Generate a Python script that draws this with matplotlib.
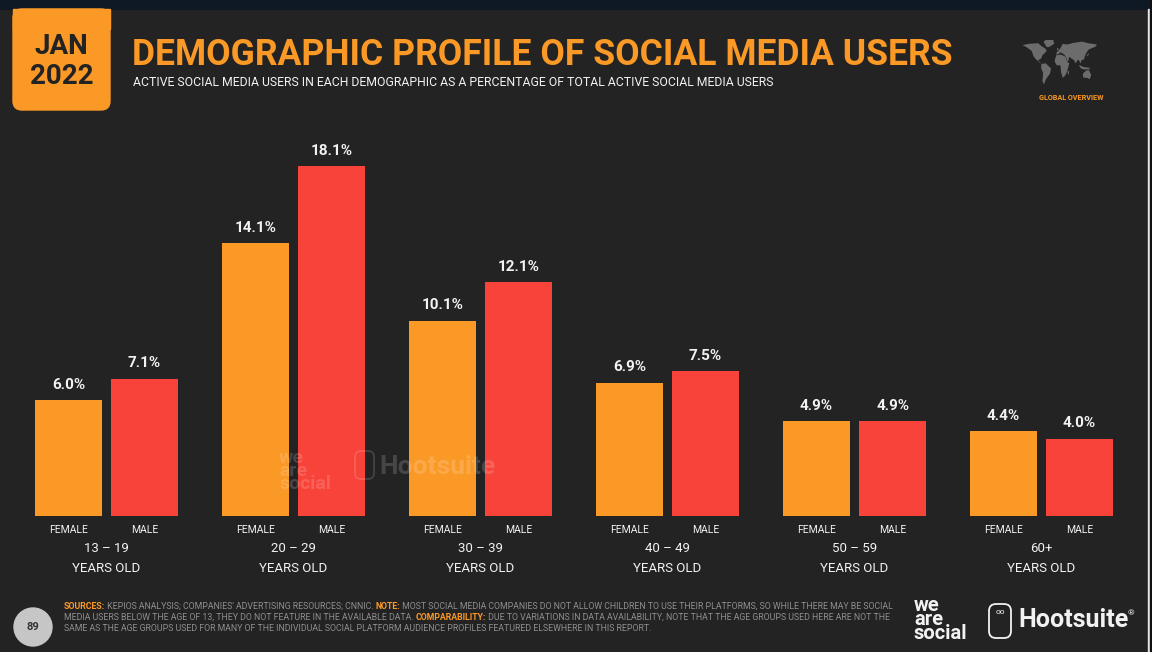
import matplotlib
matplotlib.use("Agg")
from matplotlib import pyplot as plt
from matplotlib.patches import Rectangle, FancyBboxPatch, Circle, Polygon
import numpy as np

# data
age_groups = ["13 – 19", "20 – 29", "30 – 39", "40 – 49", "50 – 59", "60+"]
female = [6.0, 14.1, 10.1, 6.9, 4.9, 4.4]
male = [7.1, 18.1, 12.1, 7.5, 4.9, 4.0]
sex_labels = ["FEMALE", "MALE"]

BG = "#232323"
NAVY = "#0f1926"
ORANGE = "#fb9927"
RED = "#f7433a"
WHITE = "#f2f2f2"
GREY = "#8e8e8e"
FONT = ["Roboto", "DejaVu Sans"]

plt.rcParams["font.family"] = FONT

W, H = 1152, 652
fig = plt.figure(figsize=(W / 100, H / 100), dpi=100)
fig.patch.set_facecolor(BG)


def pixel_axes():
    # full-figure overlay in pixel coordinates
    a = fig.add_axes([0, 0, 1, 1])
    a.set_xlim(0, W)
    a.set_ylim(H, 0)
    a.axis("off")
    a.set_facecolor("none")
    return a


deco = pixel_axes()
deco.add_patch(Rectangle((0, 0), W, H, color=BG, zorder=0))
deco.add_patch(Rectangle((0, 0), W, 9, color=NAVY, zorder=1))
deco.add_patch(Rectangle((1148, 9), 2, H, color="#e6e6e6", zorder=1))
deco.add_patch(Rectangle((1150, 0), 2, H, color="#101010", zorder=1))

# date badge
deco.add_patch(FancyBboxPatch((13, 9), 97, 101, boxstyle="round,pad=0,rounding_size=9",
                              color=ORANGE, zorder=2))
deco.add_patch(Rectangle((13, 9), 97, 20, color=ORANGE, zorder=2))
deco.text(61.5, 47, "JAN", color=BG, fontsize=20, fontweight="bold", ha="center", va="center", zorder=3)
deco.text(61.5, 76, "2022", color=BG, fontsize=20, fontweight="bold", ha="center", va="center", zorder=3)

# title
deco.text(132, 65, "DEMOGRAPHIC PROFILE OF SOCIAL MEDIA USERS", color=ORANGE, fontsize=25.6,
          fontweight="bold", ha="left", va="baseline")
deco.text(133, 86, "ACTIVE SOCIAL MEDIA USERS IN EACH DEMOGRAPHIC AS A PERCENTAGE OF TOTAL ACTIVE SOCIAL MEDIA USERS",
          color=WHITE, fontsize=8.85, ha="left", va="baseline")

# crude world map
continents = [
    [(-168, 66), (-140, 70), (-95, 72), (-80, 63), (-62, 56), (-55, 48), (-75, 35), (-81, 25), (-97, 18),
     (-88, 15), (-80, 8), (-105, 22), (-117, 32), (-125, 48), (-150, 60)],
    [(-55, 60), (-45, 60), (-20, 70), (-25, 82), (-60, 82), (-70, 76)],
    [(-80, 8), (-60, 10), (-35, -6), (-40, -22), (-58, -38), (-68, -55), (-75, -45), (-72, -20), (-81, -5)],
    [(-10, 36), (-9, 43), (-2, 48), (5, 53), (10, 58), (20, 70), (40, 68), (70, 73), (110, 77), (140, 72),
     (180, 68), (170, 60), (160, 58), (140, 52), (130, 42), (122, 30), (120, 22), (108, 20), (104, 10),
     (100, 14), (92, 22), (80, 10), (72, 20), (60, 25), (50, 30), (44, 12), (35, 30), (28, 36), (20, 40),
     (10, 44), (2, 40)],
    [(-17, 21), (-10, 35), (10, 37), (32, 31), (43, 12), (51, 11), (40, -15), (33, -26), (20, -35),
     (12, -18), (9, 4), (-8, 4), (-17, 14)],
    [(114, -22), (130, -12), (142, -11), (153, -26), (146, -39), (135, -35), (115, -34)],
    [(-8, 50), (0, 51), (-2, 58), (-6, 57)],
    [(44, -13), (50, -15), (47, -25), (43, -22)],
    [(95, 5), (120, -2), (140, -3), (150, -8), (120, -9), (105, -6)],
    [(130, 31), (140, 35), (142, 43), (136, 37)],
]
for poly in continents:
    pts = [(1020 + (lon + 180) / 360 * 77, 39 + (85 - lat) / 145 * 47) for lon, lat in poly]
    deco.add_patch(Polygon(pts, closed=True, color="#6c6c6c", lw=0, zorder=2))
deco.text(1071, 98, "GLOBAL OVERVIEW", color=ORANGE, fontsize=5.2, fontweight="bold",
          ha="center", va="center")

# chart axes mapped onto the slide: baseline at y=516 px, group pitch 187 px
ax = fig.add_axes([0, (H - 516) / H, 1, 380 / H])
ax.set_facecolor("none")
x0 = 106.5 / 187
ax.set_xlim(-x0, (W - 106.5) / 187)
ax.set_ylim(0, 380 * 18.1 / 350)
for s in ax.spines.values():
    s.set_visible(False)
ax.set_yticks([])

idx = np.arange(len(age_groups))
off = 0.2035
bw = 0.358
bf = ax.bar(idx - off, female, bw, color=ORANGE, lw=0)
bm = ax.bar(idx + off, male, bw, color=RED, lw=0)
for bars, vals in [(bf, female), (bm, male)]:
    for b, v in zip(bars, vals):
        ax.annotate(f"{v:.1f}%", (b.get_x() + b.get_width() / 2, v), xytext=(0, 6),
                    textcoords="offset points", ha="center", va="bottom", color=WHITE,
                    fontsize=11, fontweight="bold")

ticks = np.concatenate([idx - off, idx + off])
ax.set_xticks(ticks)
ax.set_xticklabels([sex_labels[0]] * len(idx) + [sex_labels[1]] * len(idx))
ax.tick_params(axis="x", length=0, pad=6.5, labelsize=7.5, labelcolor=WHITE)

trans = ax.get_xaxis_transform()
for i, grp in enumerate(age_groups):
    ax.text(i, -33 / 380, grp, transform=trans, ha="center", va="center", color=WHITE, fontsize=9.5)
    ax.text(i, -52 / 380, "YEARS OLD", transform=trans, ha="center", va="center", color=WHITE, fontsize=9.5)

# overlay on top of the bars: faint watermark and footer
top = pixel_axes()
top.text(279, 489, "we\nare\nsocial", color="#ffffff", alpha=0.16, fontsize=14, fontweight="bold",
         ha="left", va="baseline", linespacing=0.66)
top.add_patch(FancyBboxPatch((355, 451), 19, 28, boxstyle="round,pad=0,rounding_size=6",
                             fill=False, ec="#ffffff", alpha=0.16, lw=1.2))
top.text(379, 474, "Hootsuite", color="#ffffff", alpha=0.16, fontsize=19, fontweight="bold",
         ha="left", va="baseline")

top.add_patch(Circle((33, 627), 19, color="#c6c6c6", zorder=2))
top.text(33, 627, "89", color="#333333", fontsize=8, fontweight="bold", ha="center", va="center", zorder=3)

foot_lines = [
    [("SOURCES:", True), (" KEPIOS ANALYSIS; COMPANIES' ADVERTISING RESOURCES; CNNIC. ", False), ("NOTE:", True),
     (" MOST SOCIAL MEDIA COMPANIES DO NOT ALLOW CHILDREN TO USE THEIR PLATFORMS, SO WHILE THERE MAY BE SOCIAL", False)],
    [("MEDIA USERS BELOW THE AGE OF 13, THEY DO NOT FEATURE IN THE AVAILABLE DATA. ", False), ("COMPARABILITY:", True),
     (" DUE TO VARIATIONS IN DATA AVAILABILITY, NOTE THAT THE AGE GROUPS USED HERE ARE NOT THE", False)],
    [("SAME AS THE AGE GROUPS USED FOR MANY OF THE INDIVIDUAL SOCIAL PLATFORM AUDIENCE PROFILES FEATURED ELSEWHERE IN THIS REPORT.", False)],
]
for k, line in enumerate(foot_lines):
    prev = None
    for txt, hl in line:
        kw = dict(color=ORANGE if hl else GREY, fontsize=6.3, fontweight="bold" if hl else "normal",
                  va="bottom", ha="left")
        if prev is None:
            prev = top.text(64, 611 + k * 11, txt, **kw)
        else:
            prev = top.annotate(txt, xy=(1, 0), xycoords=prev, xytext=(0, 0),
                                textcoords="offset points", **kw)

# logos
top.text(914, 639, "we\nare\nsocial", color=WHITE, fontsize=14.5, fontweight="bold",
         ha="left", va="baseline", linespacing=0.68)
top.add_patch(FancyBboxPatch((989, 604), 22, 34, boxstyle="round,pad=0,rounding_size=7",
                             fill=False, ec=WHITE, lw=1.3))
top.text(1000, 612, "oo", color=WHITE, fontsize=6, ha="center", va="center")
top.text(1018, 627, "Hootsuite", color=WHITE, fontsize=18, fontweight="bold", ha="left", va="baseline")
top.text(1128, 613, "®", color=WHITE, fontsize=6, ha="left", va="center")

fig.savefig("out.png", dpi=100, facecolor=BG)
